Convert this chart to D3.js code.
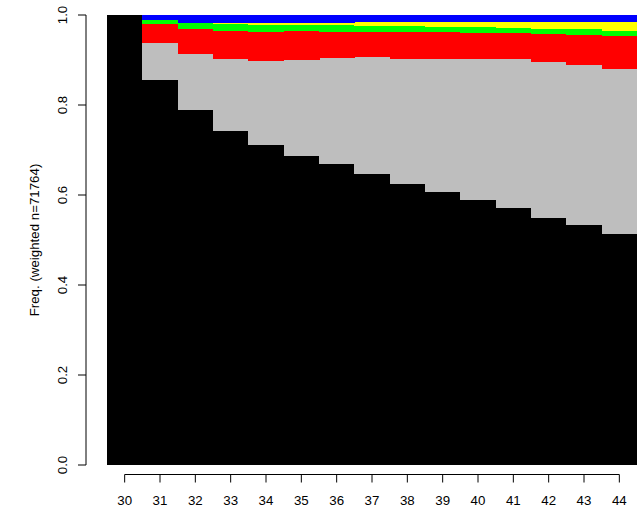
<!DOCTYPE html>
<html><head><meta charset="utf-8">
<script src="https://cdn.jsdelivr.net/npm/d3@7"></script>
<style>body{margin:0;background:#fff}svg{display:block}text{font-family:"Liberation Sans",Arial,sans-serif;font-size:13.3px;fill:#000}</style>
</head><body><svg id="c" width="637" height="513"></svg>
<script>
const categories = ["30","31","32","33","34","35","36","37","38","39","40","41","42","43","44"];
const seriesNames = ["s1","s2","s3","s4","s5","s6"];
const seriesColors = ["#000000","#BEBEBE","#FF0000","#00FF00","#FFFF00","#0000FF"];
const s1 = [1.000,0.855,0.788,0.742,0.711,0.687,0.669,0.647,0.624,0.606,0.589,0.571,0.550,0.533,0.514];
const s2 = [0.000,0.083,0.126,0.160,0.186,0.212,0.236,0.259,0.279,0.297,0.314,0.331,0.345,0.356,0.367];
const s3 = [0.000,0.042,0.055,0.063,0.066,0.065,0.058,0.057,0.060,0.060,0.058,0.057,0.063,0.067,0.073];
const s4 = [0.000,0.008,0.013,0.014,0.015,0.014,0.014,0.013,0.013,0.011,0.013,0.013,0.012,0.013,0.010];
const s5 = [0.000,0.000,0.001,0.003,0.004,0.004,0.005,0.008,0.008,0.011,0.011,0.013,0.015,0.016,0.021];
const s6 = [0.000,0.012,0.017,0.018,0.018,0.018,0.018,0.016,0.016,0.015,0.015,0.015,0.015,0.015,0.015];
const yTicks = [0,0.2,0.4,0.6,0.8,1.0];
const yTitle = "Freq. (weighted n=71764)";

const seriesVals = [s1,s2,s3,s4,s5,s6];
const rows = categories.map((c,i)=>{const r={cat:c}; seriesNames.forEach((n,k)=>r[n]=seriesVals[k][i]); return r;});
const stack = d3.stack().keys(seriesNames)(rows);

const svg = d3.select("#c");
const x = d3.scaleBand().domain(categories).range([107,637]).padding(0);
const y = d3.scaleLinear().domain([0,1]).range([465,15]);

const g = svg.append("g").attr("shape-rendering","crispEdges");
stack.forEach((layer,k)=>{
  g.selectAll(null).data(layer).enter().append("rect")
    .attr("x",d=>x(d.data.cat))
    .attr("width",x.bandwidth()+0.5)
    .attr("y",d=>y(d[1]))
    .attr("height",d=>Math.max(0,y(d[0])-y(d[1])))
    .attr("fill",seriesColors[k]);
});

// y axis
const ya = svg.append("g").attr("transform","translate(86,0)");
ya.append("line").attr("x1",0).attr("x2",0).attr("y1",y(0)).attr("y2",y(1)).attr("stroke","#000");
yTicks.forEach(t=>{
  ya.append("line").attr("x1",0).attr("x2",-8).attr("y1",y(t)).attr("y2",y(t)).attr("stroke","#000");
  ya.append("text").attr("transform",`translate(-19,${y(t)}) rotate(-90)`).attr("text-anchor","middle").text(d3.format(".1f")(t));
});
svg.append("text").attr("transform",`translate(39,${(y(0)+y(1))/2}) rotate(-90)`).attr("text-anchor","middle").text(yTitle);

// x axis
const xa = svg.append("g").attr("transform","translate(0,474.5)");
const cx = c=>x(c)+x.bandwidth()/2;
xa.append("line").attr("x1",cx(categories[0])).attr("x2",cx(categories[categories.length-1])).attr("y1",0).attr("y2",0).attr("stroke","#000");
categories.forEach(c=>{
  xa.append("line").attr("x1",cx(c)).attr("x2",cx(c)).attr("y1",0).attr("y2",8).attr("stroke","#000");
  xa.append("text").attr("x",cx(c)).attr("y",30).attr("text-anchor","middle").text(c);
});
</script></body></html>
